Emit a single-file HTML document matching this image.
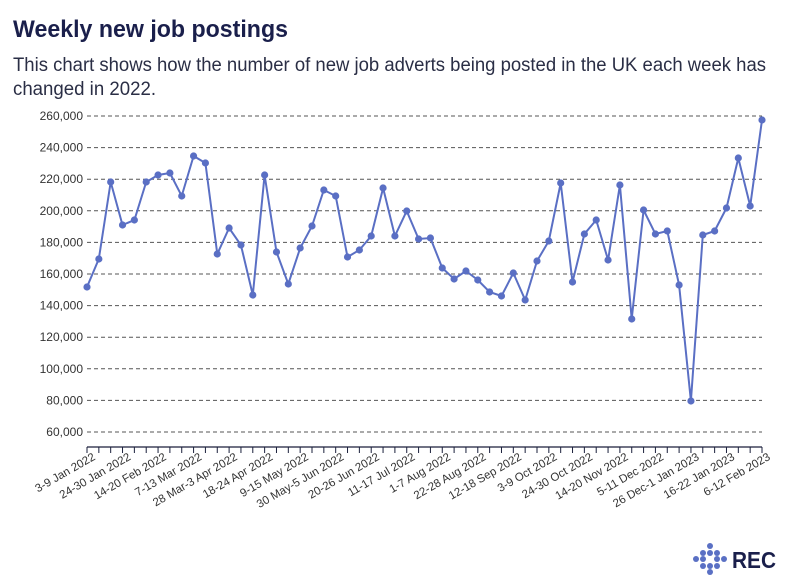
<!DOCTYPE html>
<html><head><meta charset="utf-8"><style>
body{margin:0;background:#fff;}
svg{display:block;font-family:"Liberation Sans",sans-serif;}
</style></head><body>
<svg width="796" height="575" viewBox="0 0 796 575" xmlns="http://www.w3.org/2000/svg">
<text x="13" y="37" font-size="24" font-weight="bold" fill="#1a1f4b" textLength="275" lengthAdjust="spacingAndGlyphs">Weekly new job postings</text>
<text x="13" y="71" font-size="19" fill="#2a2e45" textLength="753" lengthAdjust="spacingAndGlyphs">This chart shows how the number of new job adverts being posted in the UK each week has</text>
<text x="13" y="95" font-size="19" fill="#2a2e45" textLength="143" lengthAdjust="spacingAndGlyphs">changed in 2022.</text>
<g id="grid" stroke="#555" stroke-width="1" stroke-dasharray="4,3"></g>
<g id="ylab" font-size="12" fill="#333" text-anchor="end"></g>
<line x1="87" y1="447" x2="762" y2="447" stroke="#1a1f3b" stroke-width="1.2"/>
<g id="ticks" stroke="#1a1f3b" stroke-width="1"></g>
<g id="xlab" font-size="11.5" fill="#333" text-anchor="end"></g>
<polyline id="line" fill="none" stroke="#5a6fc4" stroke-width="2"/>
<g id="dots" fill="#5a6fc4"></g>
<g fill="#5a70c4">
<circle cx="710" cy="546" r="3"/><circle cx="703" cy="553" r="3"/><circle cx="717" cy="553" r="3"/>
<circle cx="710" cy="553" r="3"/><circle cx="696" cy="559" r="3"/><circle cx="724" cy="559" r="3"/>
<circle cx="710" cy="566" r="3"/><circle cx="703" cy="559" r="3"/><circle cx="717" cy="559" r="3"/>
<circle cx="710" cy="572" r="3"/><circle cx="703" cy="566" r="3"/><circle cx="717" cy="566" r="3"/>
</g>
<text x="732" y="568" font-size="23" font-weight="bold" fill="#1a1f4b" textLength="44" lengthAdjust="spacingAndGlyphs">REC</text>
</svg>
<script>
var ns="http://www.w3.org/2000/svg";
function el(t,a,p,txt){var e=document.createElementNS(ns,t);for(var k in a)e.setAttribute(k,a[k]);if(txt)e.textContent=txt;document.getElementById(p).appendChild(e);return e;}
function Y(v){return 116+(260000-v)/20000*31.6;}
for(var v=60000;v<=260000;v+=20000){var y=Y(v);el("line",{x1:87,x2:762,y1:y,y2:y},"grid");el("text",{x:83,y:y+4},"ylab",v.toLocaleString("en-US"));}
var px=[287,259,182,225,220,182,175,173,196,156,163,254,228,245,295,175,252,284,248,226,190,196,257,250,236,188,236,211,239,238,268,279,271,280,292,296,273,300,261,241,183,282,234,220,260,185,319,210,234,231,285,401,235,231,208,158,206,120];
var pts=[];
for(var i=0;i<58;i++){var x=87+i*675/57;pts.push(x.toFixed(1)+","+px[i]);el("circle",{cx:x,cy:px[i],r:3.6},"dots");el("line",{x1:x,x2:x,y1:447,y2:453},"ticks");}
document.getElementById("line").setAttribute("points",pts.join(" "));
var labs=["3-9 Jan 2022","24-30 Jan 2022","14-20 Feb 2022","7-13 Mar 2022","28 Mar-3 Apr 2022","18-24 Apr 2022","9-15 May 2022","30 May-5 Jun 2022","20-26 Jun 2022","11-17 Jul 2022","1-7 Aug 2022","22-28 Aug 2022","12-18 Sep 2022","3-9 Oct 2022","24-30 Oct 2022","14-20 Nov 2022","5-11 Dec 2022","26 Dec-1 Jan 2023","16-22 Jan 2023","6-12 Feb 2023"];
for(var j=0;j<20;j++){var x=87+j*3*675/57+9;el("text",{x:x,y:459,transform:"rotate(-30 "+x+" 459)"},"xlab",labs[j]);}
</script>
</body></html>
